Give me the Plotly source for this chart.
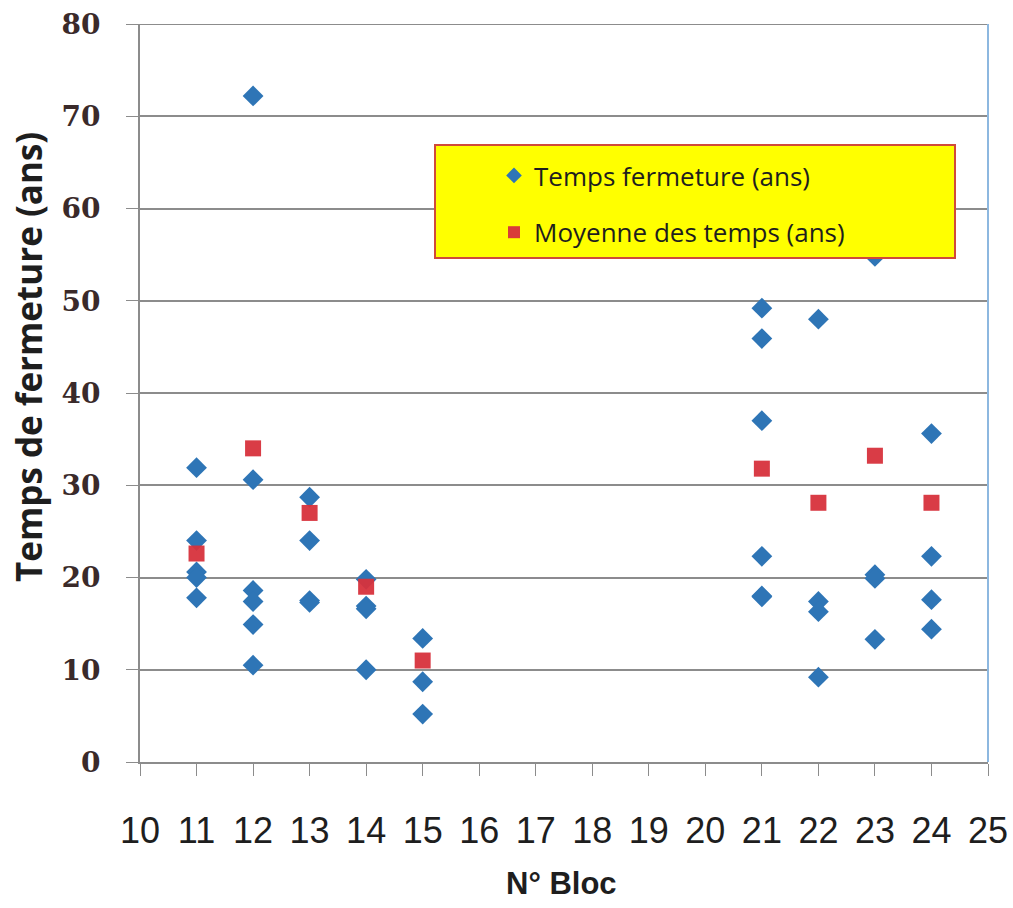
import plotly.graph_objects as go

# Individual closing times (ans) per bloc
bloc_pts = [11, 11, 11, 11, 11,
            12, 12, 12, 12, 12, 12,
            13, 13, 13, 13,
            14, 14, 14, 14,
            15, 15, 15,
            21, 21, 21, 21, 21, 21,
            22, 22, 22, 22,
            23, 23, 23, 23,
            24, 24, 24, 24]
temps_pts = [31.9, 24.0, 20.6, 20.0, 17.8,
             72.2, 30.6, 18.6, 17.4, 14.9, 10.5,
             28.7, 24.0, 17.5, 17.3,
             19.8, 16.9, 16.6, 10.0,
             13.4, 8.7, 5.2,
             49.2, 45.9, 37.0, 22.3, 18.0, 17.9,
             48.0, 17.4, 16.3, 9.2,
             54.8, 20.3, 19.9, 13.3,
             35.6, 22.3, 17.6, 14.4]

# Mean per bloc
bloc_moy = [11, 12, 13, 14, 15, 21, 22, 23, 24]
temps_moy = [22.6, 34.0, 27.0, 19.0, 11.0, 31.8, 28.1, 33.2, 28.1]

x_ticks = list(range(10, 26))
y_ticks = [0, 10, 20, 30, 40, 50, 60, 70, 80]

L, R, T, B = 140, 25, 24, 146
PW, PH = 1013 - L - R, 908 - T - B

def px(xp):
    return (xp - L) / PW

def py(yp):
    return (908 - B - yp) / PH

fig = go.Figure()
fig.add_trace(go.Scatter(
    x=bloc_pts, y=temps_pts, mode="markers", name="Temps fermeture (ans)",
    legendgroup="a",
    marker=dict(symbol="diamond", size=16, color="#2E75B6"),
))
fig.add_trace(go.Scatter(
    x=bloc_moy, y=temps_moy, mode="markers", name="Moyenne des temps (ans)",
    legendgroup="b",
    marker=dict(symbol="square", size=16, color="#D7323C", opacity=0.95),
))

# legend box background
fig.add_shape(type="rect", xref="paper", yref="paper",
              x0=px(435), x1=px(955), y0=py(258), y1=py(145),
              fillcolor="#FFFF00", line=dict(color="#D04A3A", width=2),
              layer="above")
# top gridline at 80
fig.add_shape(type="line", xref="paper", yref="y", x0=0, x1=1, y0=80, y1=80,
              line=dict(color="#8C8C8C", width=2), layer="below")
# right border line of the plot area
fig.add_shape(type="line", xref="paper", yref="paper", x0=1, x1=1, y0=0, y1=1,
              line=dict(color="#8DB8E0", width=2))

fig.add_annotation(text="<b>Temps de fermeture (ans)</b>", textangle=-90,
                   xref="paper", yref="paper", x=px(29), y=py(357),
                   xanchor="center", yanchor="middle", showarrow=False,
                   font=dict(size=35, family="Open Sans, sans-serif", color="#1E1E1E"))
fig.add_annotation(text="<b>N° Bloc</b>",
                   xref="paper", yref="paper", x=px(561), y=py(884),
                   xanchor="center", yanchor="middle", showarrow=False,
                   font=dict(size=31, family="Liberation Sans, sans-serif", color="#1E1E1E"))

fig.update_layout(
    width=1013, height=908,
    margin=dict(l=L, r=R, t=T, b=B),
    paper_bgcolor="white", plot_bgcolor="white",
    font=dict(family="Liberation Sans, sans-serif", color="#222"),
    showlegend=True,
    legend=dict(
        x=px(494), y=py(152), xanchor="left", yanchor="top",
        bgcolor="rgba(0,0,0,0)", borderwidth=0,
        font=dict(size=26, family="Open Sans, sans-serif", color="#1E1E1E"),
        traceorder="grouped", tracegroupgap=20, itemwidth=30,
        itemsizing="constant",
    ),
    xaxis=dict(
        range=[10, 25], tickvals=x_ticks, ticktext=[str(v) for v in x_ticks],
        showgrid=False, zeroline=False, automargin=False,
        showline=True, linecolor="#8C8C8C", linewidth=2,
        ticks="outside", ticklen=12, tickcolor="#8C8C8C", tickwidth=1,
        ticklabelstandoff=24,
        tickfont=dict(size=36, family="Liberation Sans, sans-serif", color="#1E1E1E"),
    ),
    yaxis=dict(
        range=[0, 80], tickvals=y_ticks, ticktext=[str(v) for v in y_ticks],
        showgrid=True, gridcolor="#8C8C8C", gridwidth=2,
        zeroline=False, automargin=False,
        showline=True, linecolor="#8C8C8C", linewidth=2,
        ticks="outside", ticklen=12, tickcolor="#8C8C8C",
        ticklabelstandoff=20,
        tickfont=dict(size=28, family="DejaVu Serif, serif", color="#3A2A2A", weight="bold"),
    ),
)

fig.write_html("out.html",
               config={"displayModeBar": False},
               post_script="document.body.style.margin='0';document.body.style.overflow='hidden';")
